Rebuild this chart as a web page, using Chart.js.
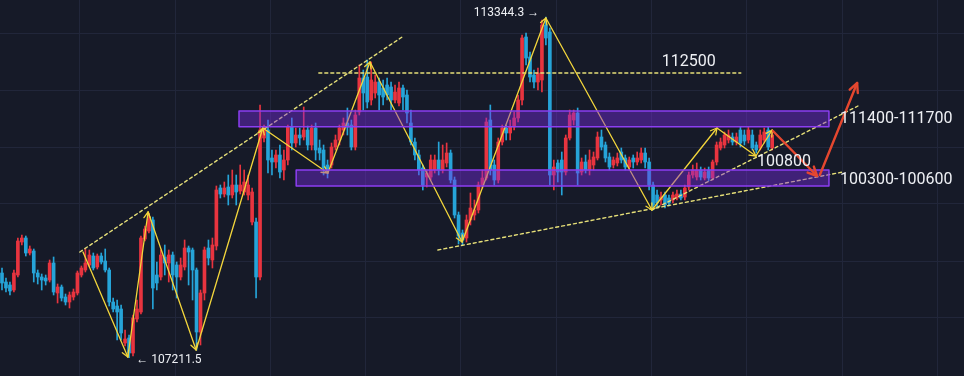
<!DOCTYPE html>
<html>
<head>
<meta charset="utf-8">
<script src="https://cdn.jsdelivr.net/npm/chart.js@4.4.1/dist/chart.umd.min.js"></script>
<style>
  html, body { margin: 0; padding: 0; background: #161a28; }
  canvas { display: block; }
</style>
</head>
<body>
<canvas id="btcChart" width="964" height="376"></canvas>
<script>
// candles, one per bar (index 0..194)
const openPrices = [
  108736, 108574, 108520, 108430, 108700, 109294, 109366, 109096, 109132, 108736,
  108664, 108646, 108610, 108916, 108376, 108484, 108304, 108214, 108304, 108376,
  108700, 108790, 108880, 109042, 108844, 109042, 108952, 108790, 108214, 108142,
  108088, 107476, 107566, 107296, 107908, 108034, 109348, 109492, 109690, 108700,
  108664, 109024, 108916, 109060, 108880, 108664, 108844, 109186, 109150, 108790,
  107674, 108376, 109186, 108970, 109222, 110266, 110158, 110284, 110140, 110320,
  110212, 110194, 110140, 109654, 109654, 108664, 111166, 111310, 110806, 110734,
  110860, 110590, 110770, 111364, 111076, 111220, 111184, 111310, 111040, 111346,
  110986, 110950, 110680, 110680, 111004, 111130, 111310, 111436, 111400, 111004,
  111634, 112246, 112264, 111850, 111976, 112174, 112066, 112120, 112084, 111850,
  111796, 112066, 111940, 111436, 111094, 110860, 110626, 110464, 110464, 110590,
  110770, 110590, 110716, 110896, 110410, 109780, 109456, 109366, 109690, 109780,
  109870, 110320, 110446, 111490, 110680, 110410, 111094, 111346, 111256, 111364,
  111526, 111850, 112984, 112624, 112300, 112174, 112210, 113200, 113074, 110500,
  110716, 110770, 110554, 111166, 111490, 111616, 110554, 110734, 110590, 110680,
  110806, 111184, 111040, 110824, 110680, 110716, 110914, 110806, 110644, 110806,
  110734, 110770, 110896, 110734, 110320, 110140, 110050, 110140, 110086, 110050,
  110086, 110158, 110104, 110284, 110500, 110464, 110590, 110446, 110590, 110446,
  110734, 110986, 111040, 111130, 111184, 111094, 111310, 111220, 111130, 111220,
  111040, 110986, 111130, 111310, 110986
];
const highPrices = [
  108826, 108646, 108574, 108790, 109366, 109420, 109402, 109222, 109168, 108790,
  108718, 108700, 108970, 109024, 108538, 108520, 108358, 108394, 108448, 108772,
  108862, 109168, 109150, 109096, 109078, 109096, 109168, 108826, 108286, 108250,
  108160, 107710, 107620, 107980, 108250, 109402, 109582, 109816, 109744, 108934,
  109150, 109240, 109150, 109114, 108934, 109006, 109330, 109222, 109186, 108826,
  108430, 109204, 109330, 109366, 110302, 110320, 110374, 110500, 110590, 110500,
  110680, 110590, 110500, 110266, 109726, 111760, 111400, 111490, 110950, 110950,
  111040, 110950, 111400, 111526, 111346, 111346, 111724, 111382, 111400, 111436,
  111130, 111040, 110770, 111076, 111220, 111400, 111526, 111706, 111490, 111670,
  112480, 112390, 112570, 112534, 112300, 112246, 112210, 112246, 112174, 112120,
  112174, 112120, 112030, 111670, 111166, 110950, 110680, 110590, 110860, 110860,
  111094, 111040, 111076, 110950, 110464, 109834, 109510, 109780, 110176, 110050,
  110374, 110590, 111526, 111760, 110770, 111166, 111400, 111400, 111490, 111634,
  111940, 113020, 113056, 112714, 112390, 112426, 113290, 113344.3, 113146, 110770,
  110770, 110914, 111220, 111670, 111670, 111706, 110806, 110860, 110950, 110914,
  111274, 111310, 111094, 110896, 110824, 110896, 110986, 110860, 110824, 110860,
  110914, 110986, 110986, 110806, 110374, 110230, 110194, 110194, 110140, 110194,
  110230, 110230, 110320, 110554, 110680, 110716, 110644, 110626, 110644, 110770,
  111094, 111166, 111274, 111310, 111256, 111256, 111364, 111310, 111364, 111310,
  111094, 111310, 111346, 111364, 111310
];
const lowPrices = [
  108430, 108394, 108340, 108394, 108664, 109240, 109042, 109060, 108574, 108538,
  108430, 108520, 108574, 108340, 108196, 108232, 108160, 108106, 108250, 108340,
  108664, 108754, 108844, 108790, 108808, 108898, 108754, 108142, 108034, 107530,
  107530, 107422, 107211.5, 107242, 107854, 107998, 109312, 109456, 108088, 108430,
  108610, 108700, 108574, 108430, 108286, 108610, 108790, 108520, 108250, 107350,
  107440, 108250, 108880, 108826, 109150, 110086, 110104, 109960, 110086, 109960,
  110158, 110140, 110050, 109600, 108286, 108610, 111094, 110536, 110500, 110626,
  110446, 110410, 110680, 110950, 111004, 111040, 111130, 110950, 110950, 110770,
  110770, 110500, 110446, 110626, 110950, 111040, 111220, 111220, 110950, 110950,
  111580, 111670, 111706, 111760, 111886, 111670, 111760, 111850, 111670, 111796,
  111742, 111670, 111436, 111040, 110770, 110500, 110230, 110284, 110410, 110536,
  110500, 110536, 110644, 110356, 109726, 109258, 109240, 109294, 109600, 109690,
  109816, 110266, 110410, 110500, 110320, 110356, 111040, 111130, 111130, 111310,
  111454, 111760, 112480, 112174, 112066, 112030, 111994, 112840, 110320, 110230,
  110374, 110140, 110500, 111130, 111400, 110320, 110500, 110536, 110500, 110590,
  110770, 110950, 110734, 110590, 110626, 110662, 110716, 110590, 110590, 110626,
  110680, 110716, 110626, 110230, 109870, 109906, 109960, 109906, 109942, 109996,
  110050, 110050, 110050, 110230, 110446, 110410, 110410, 110410, 110392, 110410,
  110680, 110950, 110986, 111076, 111040, 111040, 111004, 111040, 111076, 110950,
  110896, 110950, 111076, 110950, 110950
];
const closePrices = [
  108556, 108466, 108412, 108736, 109312, 109366, 109096, 109168, 108736, 108664,
  108610, 108592, 108916, 108394, 108484, 108286, 108214, 108340, 108394, 108736,
  108826, 108916, 109060, 108826, 109042, 108934, 108790, 108214, 108088, 108034,
  107656, 107548, 107296, 107926, 108088, 109366, 109528, 109708, 108466, 108556,
  109060, 108916, 109060, 108700, 108664, 108880, 109186, 109114, 108790, 107674,
  108376, 109150, 109006, 109240, 110230, 110158, 110266, 110140, 110320, 110194,
  110320, 110374, 110320, 110194, 108664, 111310, 111310, 110770, 110734, 110860,
  110554, 110770, 111364, 111076, 111220, 111166, 111310, 111040, 111346, 110950,
  110896, 110626, 110590, 111004, 111130, 111346, 111436, 111364, 111004, 111580,
  112246, 111976, 111814, 112210, 112174, 111940, 111904, 111940, 111850, 111994,
  112066, 111904, 111616, 111094, 110860, 110590, 110320, 110536, 110770, 110770,
  110590, 110770, 110896, 110410, 109780, 109402, 109330, 109690, 109906, 109870,
  110320, 110446, 111454, 110590, 110410, 111094, 111346, 111256, 111364, 111526,
  111850, 112966, 112606, 112264, 112174, 112336, 113200, 112966, 110500, 110644,
  110554, 110554, 111166, 111580, 111616, 110536, 110734, 110590, 110770, 110824,
  111184, 111004, 110806, 110644, 110770, 110806, 110770, 110644, 110770, 110734,
  110806, 110896, 110734, 110320, 109960, 109996, 110104, 109960, 109996, 110140,
  110158, 110086, 110266, 110500, 110590, 110590, 110464, 110554, 110446, 110734,
  111040, 111094, 111220, 111220, 111094, 111184, 111076, 111112, 111310, 110986,
  110950, 111220, 111274, 111004, 111220
];

// grid positions (bar index / price)
const xGridTicks = [19.6, 43.6, 67.6, 91.6, 115.6, 139.6, 163.6, 187.6, 211.6, 235.6];
const yGridTicks = [107930, 108950, 109980, 111000, 112020, 113040];

// drawings, in [bar index, price]
const zigzag = [
  [20.4, 109114], [31.7, 107224], [36.8, 109834], [48.9, 107350], [65.7, 111346],
  [82.1, 110536], [92.7, 112534], [115.9, 109294], [137.0, 113326], [163.7, 109870],
  [180.1, 111346], [189.9, 110842], [194.0, 111310]
];
const trendLines = [
  [[19.6, 109114], [100.8, 112984]],
  [[79.8, 112336], [186.1, 112336]],
  [[109.8, 109150], [211.8, 110554]],
  [[163.7, 109870], [215.6, 111742]]
];
const zones = [
  { x: [59.7, 208.3], y: [111370, 111650] },
  { x: [74.1, 208.3], y: [110300, 110590] }
];
const forecast = [
  [[194.2, 111292], [205.3, 110482]],
  [[206.0, 110500], [215.4, 112156]]
];
const notes = [
  { text: '113344.3 →', at: [135.3, 113416], align: 'right', size: 12 },
  { text: '← 107211.5', at: [33.8, 107170], align: 'left', size: 12 },
  { text: '112500', at: [166.2, 112543], align: 'left', size: 16 },
  { text: '111400-111700', at: [211.1, 111517], align: 'left', size: 16 },
  { text: '100800', at: [190.2, 110743], align: 'left', size: 16 },
  { text: '100300-100600', at: [211.1, 110419], align: 'left', size: 16 }
];

const UP = '#e8343f';
const DOWN = '#26a4d8';
const candleColors = openPrices.map((o, i) => closePrices[i] >= o ? UP : DOWN);
const bodies = openPrices.map((o, i) => ({ x: i, y: [o, closePrices[i]] }));
const wicks = openPrices.map((o, i) => ({ x: i, y: [lowPrices[i], highPrices[i]] }));

function head(ctx, a, b, len, spread) {
  const ang = Math.atan2(b[1] - a[1], b[0] - a[0]);
  ctx.beginPath();
  ctx.moveTo(b[0] - len * Math.cos(ang - spread), b[1] - len * Math.sin(ang - spread));
  ctx.lineTo(b[0], b[1]);
  ctx.lineTo(b[0] - len * Math.cos(ang + spread), b[1] - len * Math.sin(ang + spread));
  ctx.stroke();
}

const drawings = {
  id: 'drawings',
  afterDatasetsDraw(chart) {
    const { ctx, scales: { x, y } } = chart;
    const px = p => [x.getPixelForValue(p[0]), y.getPixelForValue(p[1])];
    ctx.save();
    ctx.lineCap = 'round';
    ctx.lineJoin = 'round';

    // dashed trend lines
    ctx.strokeStyle = '#e6df78';
    ctx.lineWidth = 1.4;
    ctx.setLineDash([3, 3]);
    trendLines.forEach(([a, b]) => {
      const p = px(a), q = px(b);
      ctx.beginPath();
      ctx.moveTo(p[0], p[1]);
      ctx.lineTo(q[0], q[1]);
      ctx.stroke();
    });
    ctx.setLineDash([]);

    // zigzag with small heads
    ctx.strokeStyle = '#f3d63c';
    ctx.lineWidth = 1.3;
    for (let i = 1; i < zigzag.length; i++) {
      const p = px(zigzag[i - 1]), q = px(zigzag[i]);
      ctx.beginPath();
      ctx.moveTo(p[0], p[1]);
      ctx.lineTo(q[0], q[1]);
      ctx.stroke();
      head(ctx, p, q, 7, 0.5);
    }

    // zones
    zones.forEach(z => {
      const l = x.getPixelForValue(z.x[0]), r = x.getPixelForValue(z.x[1]);
      const t = y.getPixelForValue(z.y[1]), btm = y.getPixelForValue(z.y[0]);
      ctx.fillStyle = 'rgba(124, 42, 232, 0.42)';
      ctx.fillRect(l, t, r - l, btm - t);
      ctx.strokeStyle = '#8c3ef2';
      ctx.lineWidth = 1.5;
      ctx.strokeRect(l, t, r - l, btm - t);
    });

    // forecast arrows
    ctx.strokeStyle = '#e5472f';
    ctx.lineWidth = 2.4;
    forecast.forEach(([a, b]) => {
      const p = px(a), q = px(b);
      ctx.beginPath();
      ctx.moveTo(p[0], p[1]);
      ctx.lineTo(q[0], q[1]);
      ctx.stroke();
      head(ctx, p, q, 10, 0.45);
    });

    // labels
    ctx.fillStyle = '#eef0f4';
    ctx.textBaseline = 'middle';
    notes.forEach(n => {
      const p = px(n.at);
      ctx.font = n.size + 'px Roboto, "Noto Sans", sans-serif';
      ctx.textAlign = n.align;
      ctx.fillText(n.text, p[0], p[1]);
    });
    ctx.restore();
  }
};

new Chart(document.getElementById('btcChart'), {
  type: 'bar',
  data: {
    datasets: [
      { data: wicks, backgroundColor: candleColors, barThickness: 1, grouped: false, order: 2 },
      { data: bodies, backgroundColor: candleColors, barThickness: 3, grouped: false, minBarLength: 1, order: 1 }
    ]
  },
  options: {
    responsive: false,
    devicePixelRatio: 1,
    animation: false,
    layout: { padding: 0 },
    plugins: {
      legend: { display: false },
      tooltip: { enabled: false }
    },
    scales: {
      x: {
        type: 'linear',
        min: -0.504,
        max: 242.317,
        offset: false,
        ticks: { display: false },
        grid: { color: '#21263a', drawTicks: false, offset: false },
        border: { display: false },
        afterBuildTicks: s => { s.ticks = xGridTicks.map(v => ({ value: v })); },
        afterFit: s => { s.height = 0; }
      },
      y: {
        min: 106882,
        max: 113650,
        ticks: { display: false },
        grid: { color: '#21263a', drawTicks: false },
        border: { display: false },
        afterBuildTicks: s => { s.ticks = yGridTicks.map(v => ({ value: v })); },
        afterFit: s => { s.width = 0; }
      }
    }
  },
  plugins: [drawings]
});
</script>
</body>
</html>
